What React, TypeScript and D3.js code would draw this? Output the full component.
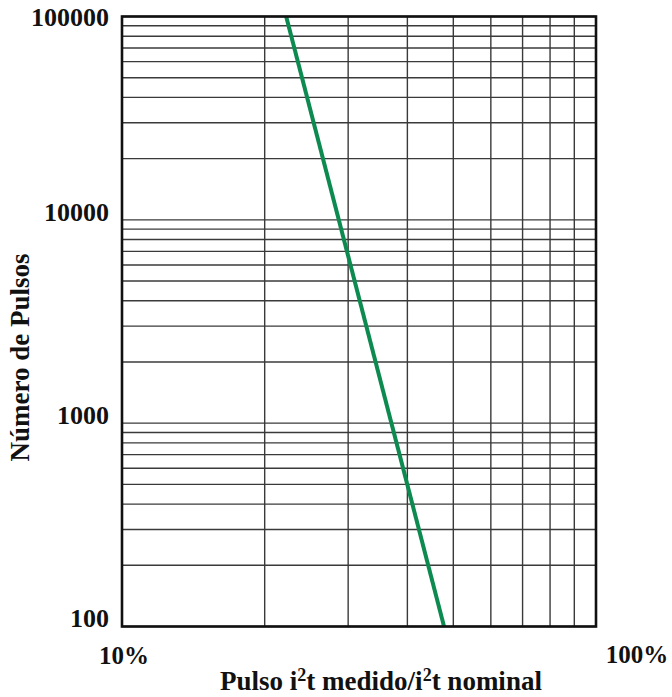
import React from 'react';
import * as d3 from 'd3';

// curve end points (percent of nominal i2t, number of pulses)
const curvePct = [22.2, 47.8];
const curvePulses = [100000, 100];

const xGrid = [20, 30, 40, 50, 60, 70, 80, 90];
const yMajor = [100, 1000, 10000, 100000];
const yLabels = ['100', '1000', '10000', '100000'];

const W = 672;
const H = 697;
const margin = { top: 16.5, right: 76, bottom: 70.5, left: 122 };

const App = () => {
  const x = d3.scaleLog().domain([10, 100]).range([margin.left, W - margin.right]);
  const y = d3.scaleLog().domain([100, 100000]).range([H - margin.bottom, margin.top]);

  // minor y grid: 1..9 in each decade
  const yGrid: number[] = [];
  [100, 1000, 10000].forEach(d => {
    for (let k = 1; k <= 9; k++) yGrid.push(d * k);
  });
  yGrid.push(100000);

  const line = d3.line<number>()
    .x((d, i) => x(curvePct[i]))
    .y((d, i) => y(curvePulses[i]));

  const font = '"Liberation Serif", "Times New Roman", serif';
  const x0 = x(10), x1 = x(100), y0 = y(100), y1 = y(100000);

  return (
    <svg width={W} height={H} style={{ position: 'absolute', left: 0, top: 0 }}>
      <rect x={0} y={0} width={W} height={H} fill="#fff" />
      <g stroke="#3a3a3a" strokeWidth={1.4}>
        {yGrid.map(v => (
          <line key={'y' + v} x1={x0} x2={x1} y1={y(v)} y2={y(v)} />
        ))}
        {xGrid.map(v => (
          <line key={'x' + v} x1={x(v)} x2={x(v)} y1={y1} y2={y0} />
        ))}
      </g>
      <path d={line(curvePulses) || ''} fill="none" stroke="#0d8a50" strokeWidth={4} />
      <rect x={x0} y={y1} width={x1 - x0} height={y0 - y1} fill="none" stroke="#111" strokeWidth={2.6} />

      <g fontFamily={font} fontWeight="bold" fontSize={26} fill="#111">
        {yMajor.map((v, i) => (
          <text key={v} x={x0 - 13} y={Math.max(y(v) - 5, y1 + 4)} textAnchor="end" dominantBaseline="middle">
            {yLabels[i]}
          </text>
        ))}
        <text x={x0 + 2} y={658} fontSize={25} textAnchor="middle" dominantBaseline="middle">10%</text>
        <text x={x1 + 41} y={657} fontSize={25} textAnchor="middle" dominantBaseline="middle">100%</text>
        <text x={(x0 + x1) / 2 + 22} y={684} fontSize={27} textAnchor="middle" dominantBaseline="middle">
          Pulso i<tspan fontSize={18} dy={-7}>2</tspan><tspan dy={7}>t medido/i</tspan>
          <tspan fontSize={18} dy={-7}>2</tspan><tspan dy={7}>t nominal</tspan>
        </text>
        <text transform={`translate(23, ${(y0 + y1) / 2 + 36}) rotate(-90)`} fontSize={27} textAnchor="middle" dominantBaseline="middle">
          Número de Pulsos
        </text>
      </g>
    </svg>
  );
};

export default App;
